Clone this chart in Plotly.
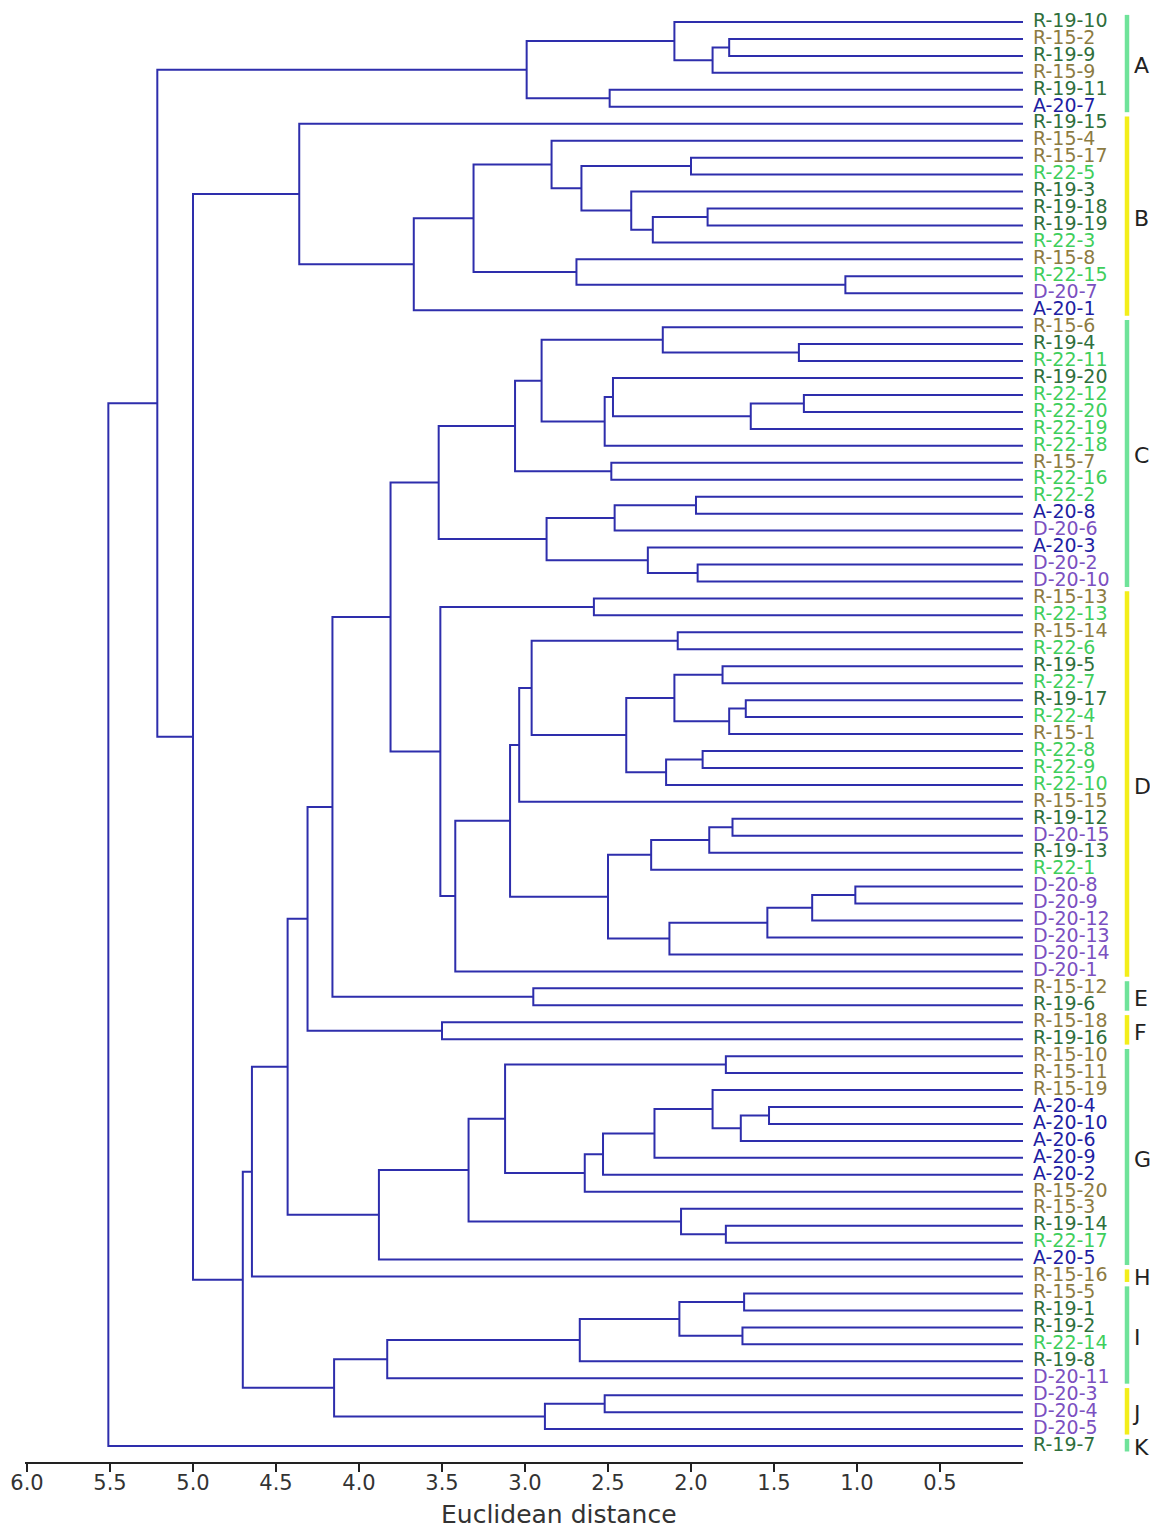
import plotly.graph_objects as go

# ---------------- data ----------------
leaf_labels = [
    "R-19-10", "R-15-2", "R-19-9", "R-15-9", "R-19-11", "A-20-7",
    "R-19-15", "R-15-4", "R-15-17", "R-22-5", "R-19-3", "R-19-18", "R-19-19", "R-22-3",
    "R-15-8", "R-22-15", "D-20-7", "A-20-1",
    "R-15-6", "R-19-4", "R-22-11", "R-19-20", "R-22-12", "R-22-20", "R-22-19", "R-22-18",
    "R-15-7", "R-22-16", "R-22-2", "A-20-8", "D-20-6", "A-20-3", "D-20-2", "D-20-10",
    "R-15-13", "R-22-13", "R-15-14", "R-22-6", "R-19-5", "R-22-7", "R-19-17", "R-22-4",
    "R-15-1", "R-22-8", "R-22-9", "R-22-10", "R-15-15", "R-19-12", "D-20-15", "R-19-13",
    "R-22-1", "D-20-8", "D-20-9", "D-20-12", "D-20-13", "D-20-14", "D-20-1",
    "R-15-12", "R-19-6", "R-15-18", "R-19-16",
    "R-15-10", "R-15-11", "R-15-19", "A-20-4", "A-20-10", "A-20-6", "A-20-9", "A-20-2",
    "R-15-20", "R-15-3", "R-19-14", "R-22-17", "A-20-5",
    "R-15-16",
    "R-15-5", "R-19-1", "R-19-2", "R-22-14", "R-19-8", "D-20-11",
    "D-20-3", "D-20-4", "D-20-5",
    "R-19-7",
]

group_names = ["A", "B", "C", "D", "E", "F", "G", "H", "I", "J", "K"]
group_sizes = [6, 12, 16, 23, 2, 2, 13, 1, 6, 3, 1]

merge_names = [
    "a1", "a2", "a3", "a4", "A",
    "b1", "b2", "b3", "b4", "b5", "b6", "b7", "b8", "b9", "b10", "B",
    "c1", "c2", "c3", "c4", "c5", "c6", "c7", "c8", "c9", "c10", "c11", "c12", "c13", "c14", "C",
    "d1", "d2", "d3", "d4", "d5", "d6", "d7", "d8", "d9", "d10", "d11", "d12", "d13", "d14",
    "d15", "d16", "d17", "d18", "d19", "d20", "d21", "D",
    "CD", "E", "CDE", "F", "CDEF",
    "g1", "g2", "g3", "g4", "g5", "g6", "g7", "g8", "g9", "g10", "g11", "G",
    "CDEFG", "CDEFGH",
    "i1", "i2", "i3", "i4", "I", "j1", "J", "IJ",
    "n1", "n2", "n3", "root",
]
merge_left = [
    "R-15-2", "a1", "R-19-10", "R-19-11", "a3",
    "R-15-17", "R-19-18", "b2", "R-19-3", "b1", "R-15-4", "R-22-15", "R-15-8", "b6", "b9", "R-19-15",
    "R-19-4", "R-15-6", "R-22-12", "c3", "R-19-20", "c5", "c2", "R-15-7", "c7", "R-22-2", "c10",
    "D-20-2", "A-20-3", "c11", "c9",
    "R-15-13", "R-15-14", "R-19-5", "R-19-17", "d4", "d3", "R-22-8", "d7", "d6", "d2", "d10",
    "R-19-12", "d12", "d13", "D-20-8", "d15", "d16", "d17", "d14", "d11", "d20", "d1",
    "C", "R-15-12", "CD", "R-15-18", "CDE",
    "R-15-10", "A-20-4", "g2", "R-15-19", "g4", "g5", "g6", "g1", "R-19-14", "R-15-3", "g8", "g11",
    "CDEF", "CDEFG",
    "R-15-5", "R-19-2", "i1", "i3", "i4", "D-20-3", "j1", "I",
    "CDEFGH", "B", "A", "n3",
]
merge_right = [
    "R-19-9", "R-15-9", "a2", "A-20-7", "a4",
    "R-22-5", "R-19-19", "R-22-3", "b3", "b4", "b5", "D-20-7", "b7", "b8", "A-20-1", "b10",
    "R-22-11", "c1", "R-22-20", "R-22-19", "c4", "R-22-18", "c6", "R-22-16", "c8", "A-20-8", "D-20-6",
    "D-20-10", "c12", "c13", "c14",
    "R-22-13", "R-22-6", "R-22-7", "R-22-4", "R-15-1", "d5", "R-22-9", "R-22-10", "d8", "d9",
    "R-15-15", "D-20-15", "R-19-13", "R-22-1", "D-20-9", "D-20-12", "D-20-13", "D-20-14", "d18",
    "d19", "D-20-1", "d21",
    "D", "R-19-6", "E", "R-19-16", "F",
    "R-15-11", "A-20-10", "A-20-6", "g3", "A-20-9", "A-20-2", "R-15-20", "g7", "R-22-17", "g9",
    "g10", "A-20-5",
    "G", "R-15-16",
    "R-19-1", "R-22-14", "i2", "R-19-8", "D-20-11", "D-20-4", "D-20-5", "J",
    "IJ", "n1", "n2", "R-19-7",
]
merge_height = [
    1.77, 1.87, 2.10, 2.49, 2.99,
    2.00, 1.90, 2.23, 2.36, 2.66, 2.84, 1.07, 2.69, 3.31, 3.67, 4.36,
    1.35, 2.17, 1.32, 1.64, 2.47, 2.52, 2.90, 2.48, 3.06, 1.97, 2.46, 1.96, 2.26, 2.87, 3.52,
    2.585, 2.08, 1.81, 1.67, 1.77, 2.10, 1.93, 2.15, 2.39, 2.96, 3.035, 1.75, 1.89, 2.24,
    1.01, 1.27, 1.54, 2.13, 2.50, 3.09, 3.42, 3.51,
    3.81, 2.95, 4.16, 3.50, 4.31,
    1.79, 1.53, 1.70, 1.87, 2.22, 2.53, 2.64, 3.12, 1.79, 2.06, 3.34, 3.88,
    4.43, 4.645,
    1.68, 1.69, 2.07, 2.67, 3.83, 2.52, 2.88, 4.15,
    4.70, 5.00, 5.215, 5.51,
]

tick_values = [0.5, 1.0, 1.5, 2.0, 2.5, 3.0, 3.5, 4.0, 4.5, 5.0, 5.5, 6.0]
tick_labels = ["0.5", "1.0", "1.5", "2.0", "2.5", "3.0", "3.5", "4.0", "4.5", "5.0", "5.5", "6.0"]
axis_title = "Euclidean distance"

# ---------------- styles ----------------
prefix_colors = {
    "R-19": "#2f6f3c",
    "R-15": "#8c7b42",
    "R-22": "#3fce5c",
    "A-20": "#1e1ea2",
    "D-20": "#7b50c0",
}
group_colors = ["#6fe39a", "#f3ee1a"]
line_color = "#2e2eac"
FONT = "DejaVu Sans"

# page has an 8px body margin; figure sized so the page matches 1158x1530
FIG_W, FIG_H = 1150, 1522
L, T, B = 17, 5, 68
MAIN_W = 998            # width of the dendrogram axis in px
PX_PER_UNIT = 166.0
plot_w = FIG_W - L
plot_h = FIG_H - T - B
main_frac = MAIN_W / plot_w
y_top = 1 - 9 / 16.95
y_bottom = 85.94

# ---------------- dendrogram geometry ----------------
pos = {name: (0.0, i + 1) for i, name in enumerate(leaf_labels)}
xs, ys = [], []
for name, left, right, h in zip(merge_names, merge_left, merge_right, merge_height):
    hl, yl = pos[left]
    hr, yr = pos[right]
    xs += [hl, h, h, hr, None]
    ys += [yl, yl, yr, yr, None]
    pos[name] = (h, (yl + yr) / 2)

fig = go.Figure()
fig.add_trace(go.Scatter(
    x=xs, y=ys, mode="lines",
    line=dict(color=line_color, width=2),
    hoverinfo="skip", showlegend=False,
))

# leaf labels (on a side axis to the right of the dendrogram)
leaf_colors = [prefix_colors[lab[:4]] for lab in leaf_labels]
fig.add_trace(go.Scatter(
    x=[10] * len(leaf_labels), y=list(range(1, len(leaf_labels) + 1)),
    xaxis="x2", yaxis="y", mode="text",
    text=leaf_labels, textposition="middle right",
    textfont=dict(family=FONT, size=19, color=leaf_colors),
    cliponaxis=False, hoverinfo="skip", showlegend=False,
))

# group bars and letters
start = 1
for k, (gname, gsize) in enumerate(zip(group_names, group_sizes)):
    first, last = start, start + gsize - 1
    fig.add_trace(go.Scatter(
        x=[104, 104], y=[first - 0.42, last + 0.32],
        xaxis="x2", yaxis="y", mode="lines",
        line=dict(color=group_colors[k % 2], width=4.5),
        cliponaxis=False, hoverinfo="skip", showlegend=False,
    ))
    fig.add_trace(go.Scatter(
        x=[111], y=[(first + last) / 2 + 0.2],
        xaxis="x2", yaxis="y", mode="text",
        text=[gname], textposition="middle right",
        textfont=dict(family=FONT, size=22, color="#222222"),
        cliponaxis=False, hoverinfo="skip", showlegend=False,
    ))
    start = last + 1

fig.add_annotation(
    text=axis_title, xref="paper", yref="paper",
    x=(559 - 8 - L) / plot_w, y=-(1515 - 8 - (T + plot_h)) / plot_h,
    xanchor="center", yanchor="middle", showarrow=False,
    font=dict(family=FONT, size=25, color="#333333"),
)

fig.update_layout(
    width=FIG_W, height=FIG_H,
    margin=dict(l=L, r=0, t=T, b=B, pad=0),
    paper_bgcolor="white", plot_bgcolor="white",
    showlegend=False,
    xaxis=dict(
        domain=[0, main_frac], range=[MAIN_W / PX_PER_UNIT, 0],
        showgrid=False, zeroline=False,
        showline=True, linecolor="#222222", linewidth=1.5,
        ticks="outside", ticklen=8, tickwidth=1.5, tickcolor="#222222",
        tickvals=tick_values, ticktext=tick_labels,
        tickfont=dict(family=FONT, size=21, color="#333333"),
        ticklabelstandoff=-7,
        anchor="y",
    ),
    xaxis2=dict(
        domain=[main_frac, 1], range=[0, plot_w - MAIN_W],
        visible=False, anchor="y",
    ),
    yaxis=dict(
        range=[y_bottom, y_top], visible=False, showgrid=False, zeroline=False,
    ),
)

fig.write_html("out.html")
